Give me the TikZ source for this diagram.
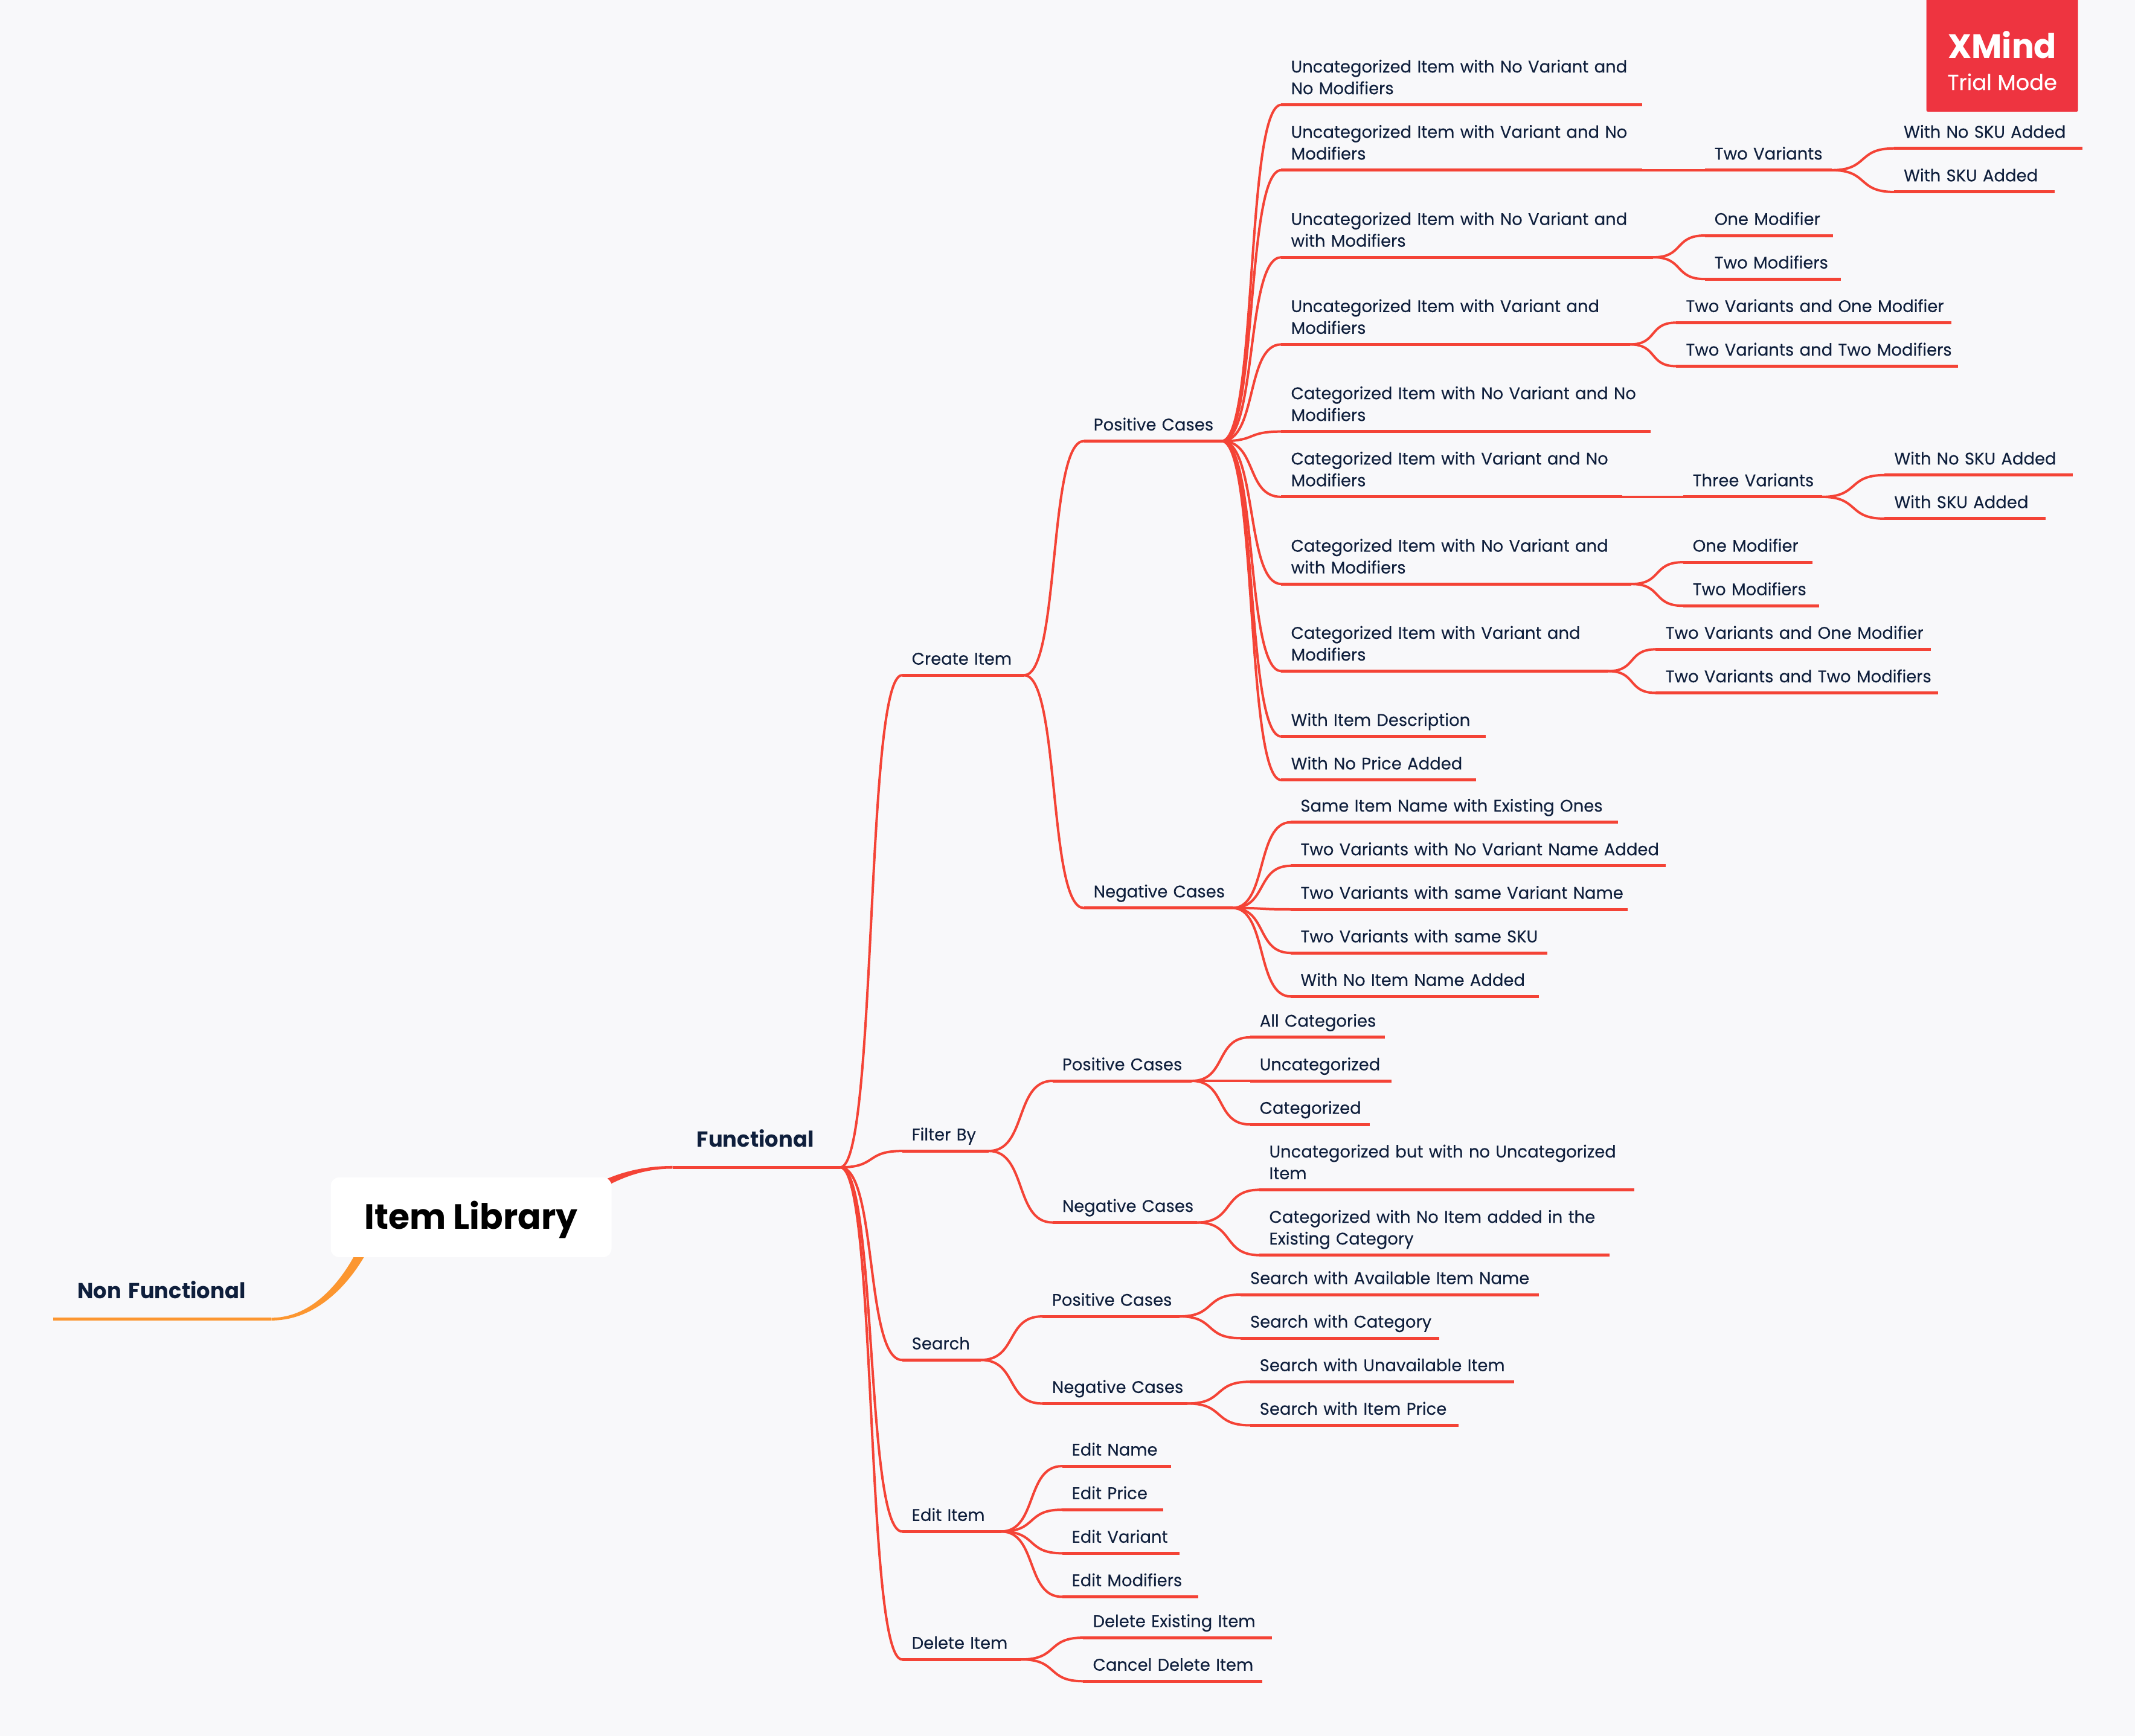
\documentclass[tikz,border=0pt]{standalone}
\usepackage{fontspec}
\setmainfont{Poppins}[FakeStretch=0.98, UprightFeatures={FakeBold=0.2}]
\usetikzlibrary{calc,backgrounds}
\definecolor{pagegrey}{HTML}{F8F8FA}
\definecolor{inknavy}{HTML}{0F1F3C}
\definecolor{fnred}{HTML}{F44336}
\definecolor{nfnorange}{HTML}{FC9630}
\definecolor{logored}{HTML}{EE3440}
\newcommand{\keepline}{\rightskip=0pt minus 100pt\relax}
\tikzset{
	topic/.style={anchor=south west, inner xsep=16pt, inner ysep=6.5pt, align=left, text=inknavy,
		font=\fontsize{28}{36}\selectfont, execute at begin node=\keepline, execute at end node=\strut},
	major/.style={anchor=south west, inner xsep=40pt, inner ysep=20pt, align=left, text=inknavy,
		font=\fontsize{36}{46}\selectfont\bfseries, execute at begin node=\keepline, execute at end node=\strut},
	underline/.style={draw=fnred, line width=5pt},
	branch/.style={draw=fnred, line width=4pt, line cap=round},
}
\begin{document}
\begin{tikzpicture}[x=2.2545pt, y=-2.2545pt]
	\useasboundingbox (0,0) rectangle (1568,1275.2);
	\begin{pgfonlayer}{background}
		\fill[pagegrey] (0,0) rectangle (1568,1275.2);
	\end{pgfonlayer}
	
	\node[fill=white, rounded corners=14pt, minimum width=465pt, minimum height=132pt, inner sep=0pt,
		font=\fontsize{58}{70}\selectfont\bfseries, text=black] (root) at (346,894.2) {\raisebox{-19.5pt}[0pt][0pt]{Item Library}};
	\node[major, text width=281pt] (nonfn) at (39,969) {Non Functional};
	\node[major, text width=197pt] (fn) at (494,857.5) {Functional};
	
	\node[fill=logored, rounded corners=2pt, minimum width=251pt, minimum height=187pt, inner sep=0pt] (logo) at (1470.5,40.5) {};
	\node[inner sep=0pt, align=center, text=white, font=\fontsize{36}{56}\selectfont] (logotext) at (1470.5,44.5)
		{{\fontsize{56}{56}\selectfont\bfseries XMind}\\[-3pt] Trial Mode};
	
	\foreach \nm/\xa/\yy/\xb/\txt in {
		create/662.5/496/752/{Create Item},
		cpos/796/324/897/{Positive Cases},
		cneg/796/667/905/{Negative Cases},
		a1/941/77/1206/{Uncategorized Item with No Variant and\\No Modifiers},
		a2/941/125/1206/{Uncategorized Item with Variant and No\\Modifiers},
		a3/941/189/1214/{Uncategorized Item with No Variant and\\with Modifiers},
		a4/941/253/1197/{Uncategorized Item with Variant and\\Modifiers},
		a5/941/317/1212/{Categorized Item with No Variant and No\\Modifiers},
		a6/941/365/1191/{Categorized Item with Variant and No\\Modifiers},
		a7/941/429/1198/{Categorized Item with No Variant and\\with Modifiers},
		a8/941/493/1181/{Categorized Item with Variant and\\Modifiers},
		a9/941/541/1091/{With Item Description},
		a10/941/573/1084/{With No Price Added},
		twovar/1252/125/1345/{Two Variants},
		twovarn/1391/109/1529/{With No SKU Added},
		twovars/1391/141/1509/{With SKU Added},
		onemod/1252/173/1346/{One Modifier},
		twomod/1252/205/1352/{Two Modifiers},
		vone/1231/237/1433/{Two Variants and One Modifier},
		vtwo/1231/269/1438/{Two Variants and Two Modifiers},
		threevar/1236/365/1338/{Three Variants},
		threen/1384/349/1522/{With No SKU Added},
		threes/1384/381/1502/{With SKU Added},
		conemod/1236/413/1331/{One Modifier},
		ctwomod/1236/445/1336/{Two Modifiers},
		cvone/1216/477/1418/{Two Variants and One Modifier},
		cvtwo/1216/509/1423/{Two Variants and Two Modifiers},
		b1/948/604/1188/{Same Item Name with Existing Ones},
		b2/948/636/1223/{Two Variants with No Variant Name Added},
		b3/948/668/1195/{Two Variants with same Variant Name},
		b4/948/700/1136/{Two Variants with same SKU},
		b5/948/732/1130/{With No Item Name Added},
		filter/662.5/845.5/726/{Filter By},
		fpos/773/794/875/{Positive Cases},
		fneg/773/898/879/{Negative Cases},
		f1/918/762/1017/{All Categories},
		f2/918/794/1022/{Uncategorized},
		f3/918/826/1006/{Categorized},
		f4/925/874/1200/{Uncategorized but with no Uncategorized\\Item},
		f5/925/922/1182/{Categorized with No Item added in the\\Existing Category},
		search/662.5/999/720/{Search},
		spos/765.5/967/866/{Positive Cases},
		sneg/765.5/1031/872/{Negative Cases},
		s1/911/951/1130/{Search with Available Item Name},
		s2/911/983/1057/{Search with Category},
		s3/918/1015/1112/{Search with Unavailable Item},
		s4/918/1047/1071/{Search with Item Price},
		edit/662.5/1125/735/{Edit Item},
		e1/780/1077/860/{Edit Name},
		e2/780/1109/854/{Edit Price},
		e3/780/1141/866/{Edit Variant},
		e4/780/1173/880/{Edit Modifiers},
		del/662.5/1219/750/{Delete Item},
		d1/795.5/1203/934/{Delete Existing Item},
		d2/795.5/1235/927/{Cancel Delete Item}} {
		\pgfmathsetmacro{\topicw}{(\xb-\xa)*2.2545-32}
		\node[topic, text width=\topicw pt] (\nm) at (\xa,\yy) {\txt};
		\draw[underline] (\nm.south west) -- (\nm.south east);
	}
	
	\foreach \from/\to in {fn/create, fn/filter, fn/search, fn/edit, fn/del,
		create/cpos, create/cneg,
		cpos/a1, cpos/a2, cpos/a3, cpos/a4, cpos/a5, cpos/a6, cpos/a7, cpos/a8, cpos/a9, cpos/a10,
		a2/twovar, twovar/twovarn, twovar/twovars, a3/onemod, a3/twomod, a4/vone, a4/vtwo,
		a6/threevar, threevar/threen, threevar/threes, a7/conemod, a7/ctwomod, a8/cvone, a8/cvtwo,
		cneg/b1, cneg/b2, cneg/b3, cneg/b4, cneg/b5,
		filter/fpos, filter/fneg, fpos/f1, fpos/f2, fpos/f3, fneg/f4, fneg/f5,
		search/spos, search/sneg, spos/s1, spos/s2, sneg/s3, sneg/s4,
		edit/e1, edit/e2, edit/e3, edit/e4, del/d1, del/d2} {
		\draw[branch] let \p1=(\from.south east), \p2=(\to.south west) in
			(\p1) .. controls ({\x1+0.6*(\x2-\x1)},\y1) and ({\x1+0.4*(\x2-\x1)},\y2) .. (\p2);
	}
	
	\draw[draw=fnred, line width=5pt] (fn.south west) -- (fn.south east);
	\draw[draw=nfnorange, line width=5pt] (nonfn.south west) -- (nonfn.south east);
	\begin{pgfonlayer}{background}
		\fill[fnred] ($(root.center)+(84,-20.2)$) .. controls ($(root.center)+(99,-29.2)$) and ($(fn.south west)+(-29,-1)$) .. ($(fn.south west)+(0,-1)$)
			-- ($(fn.south west)+(0,1)$) .. controls ($(fn.south west)+(-26,1)$) and ($(root.center)+(104,-26.2)$) .. ($(root.center)+(84,-14.2)$) -- cycle;
		\fill[nfnorange] ($(root.center)+(-78,11)$) .. controls ($(root.center)+(-85,31)$) and ($(nonfn.south east)+(38,-1)$) .. ($(nonfn.south east)+(0,-1)$)
			-- ($(nonfn.south east)+(0,1)$) .. controls ($(nonfn.south east)+(43,1)$) and ($(root.center)+(-77,31)$) .. ($(root.center)+(-70,11)$) -- cycle;
	\end{pgfonlayer}
\end{tikzpicture}
\end{document}
